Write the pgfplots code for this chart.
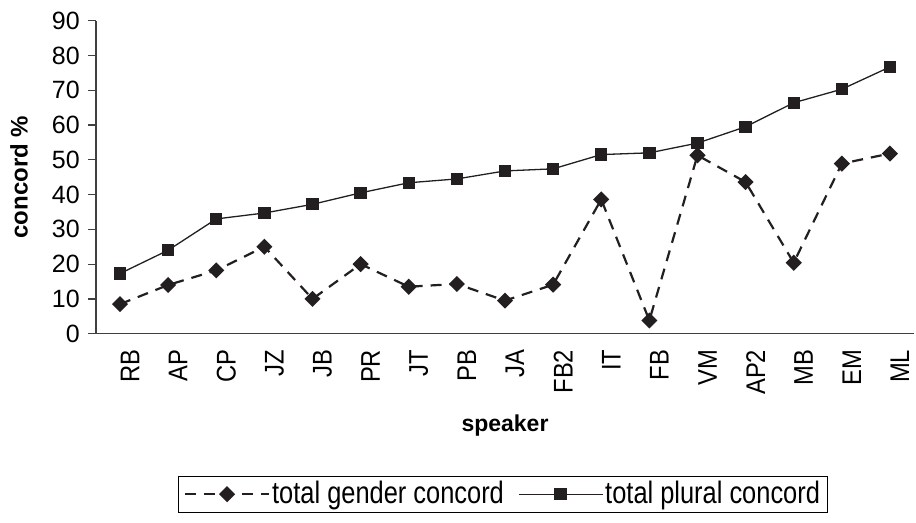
\documentclass[border=0pt]{standalone}
\usepackage{pgfplots}
\pgfplotsset{compat=1.18}
\usepackage{fontspec}
\setmainfont{Liberation Sans}
\newfontfamily\narrowA{Liberation Sans}[FakeStretch=0.88]
\newfontfamily\narrowB{Liberation Sans}[FakeStretch=0.82]
\definecolor{ink}{RGB}{35,31,32}
\begin{document}
\fontsize{24}{28}\selectfont
\begin{tikzpicture}
\begin{axis}[
  scale only axis, width=818pt, height=313pt,
  xmin=-0.5, xmax=16.5, ymin=0, ymax=90,
  axis x line*=bottom, axis y line*=left,
  axis line style={line width=1.2pt, color=black!75, -},
  ytick={0,10,...,90},
  xtick={0,...,16},
  xticklabels={RB,AP,CP,JZ,JB,PR,JT,PB,JA,FB2,IT,FB,VM,AP2,MB,EM,ML},
  minor xtick={-0.5,0.5,...,16.5},
  tick align=outside,
  major tick length=8pt, minor tick length=8pt,
  xtick style={draw=none},
  minor x tick style={line width=1.2pt, color=black!75},
  y tick style={line width=1.2pt, color=black!75},
  /pgf/number format/assume math mode=true,
  yticklabel style={font=\fontsize{25}{28}\selectfont},
  xticklabel style={font=\narrowA\fontsize{27}{30}\selectfont, rotate=90, anchor=east, yshift=-10pt},
  xlabel={\textbf{speaker}},
  ylabel={\textbf{concord \%}},
  xlabel style={font=\fontsize{23}{28}\selectfont, yshift=-4pt},
  ylabel style={font=\fontsize{24}{28}\selectfont, yshift=8pt},
  legend columns=2,
  legend style={at={(0.5,0)}, anchor=north, yshift=-142pt, xshift=-2pt, draw=black, line width=1pt,
    font=\narrowB\fontsize{31}{34}\selectfont, inner xsep=5pt, inner ysep=3pt,
    /tikz/every even column/.append style={column sep=12pt}},
  legend image code/.code={\draw[mark repeat=2,mark phase=2,#1] plot coordinates {(0pt,0pt) (42pt,0pt) (84pt,0pt)};},
]
\addplot[color=ink, line width=2.2pt, dash pattern=on 11pt off 8pt, mark=square*, mark size=4.6pt, mark options={solid, fill=ink, rotate=45}]
coordinates {(0,8.5) (1,14) (2,18.2) (3,25) (4,10) (5,20) (6,13.5) (7,14.3) (8,9.5) (9,14.1) (10,38.6) (11,3.8) (12,51.3) (13,43.6) (14,20.4) (15,48.9) (16,51.8)};
\addlegendentry{total gender concord}
\addplot[color=ink, line width=1.3pt, mark=square*, mark size=5.5pt, mark options={solid, fill=ink}]
coordinates {(0,17.3) (1,24) (2,33) (3,34.7) (4,37.2) (5,40.5) (6,43.4) (7,44.5) (8,46.8) (9,47.4) (10,51.5) (11,52) (12,54.8) (13,59.5) (14,66.4) (15,70.3) (16,76.7)};
\addlegendentry{total plural concord}
\coordinate (O) at (rel axis cs:0,0);
\coordinate (T) at (rel axis cs:1,1);
\end{axis}
\pgfresetboundingbox
\path ([shift={(-96pt,-189pt)}]O) rectangle ([shift={(2pt,20.7pt)}]T);
\end{tikzpicture}
\end{document}
